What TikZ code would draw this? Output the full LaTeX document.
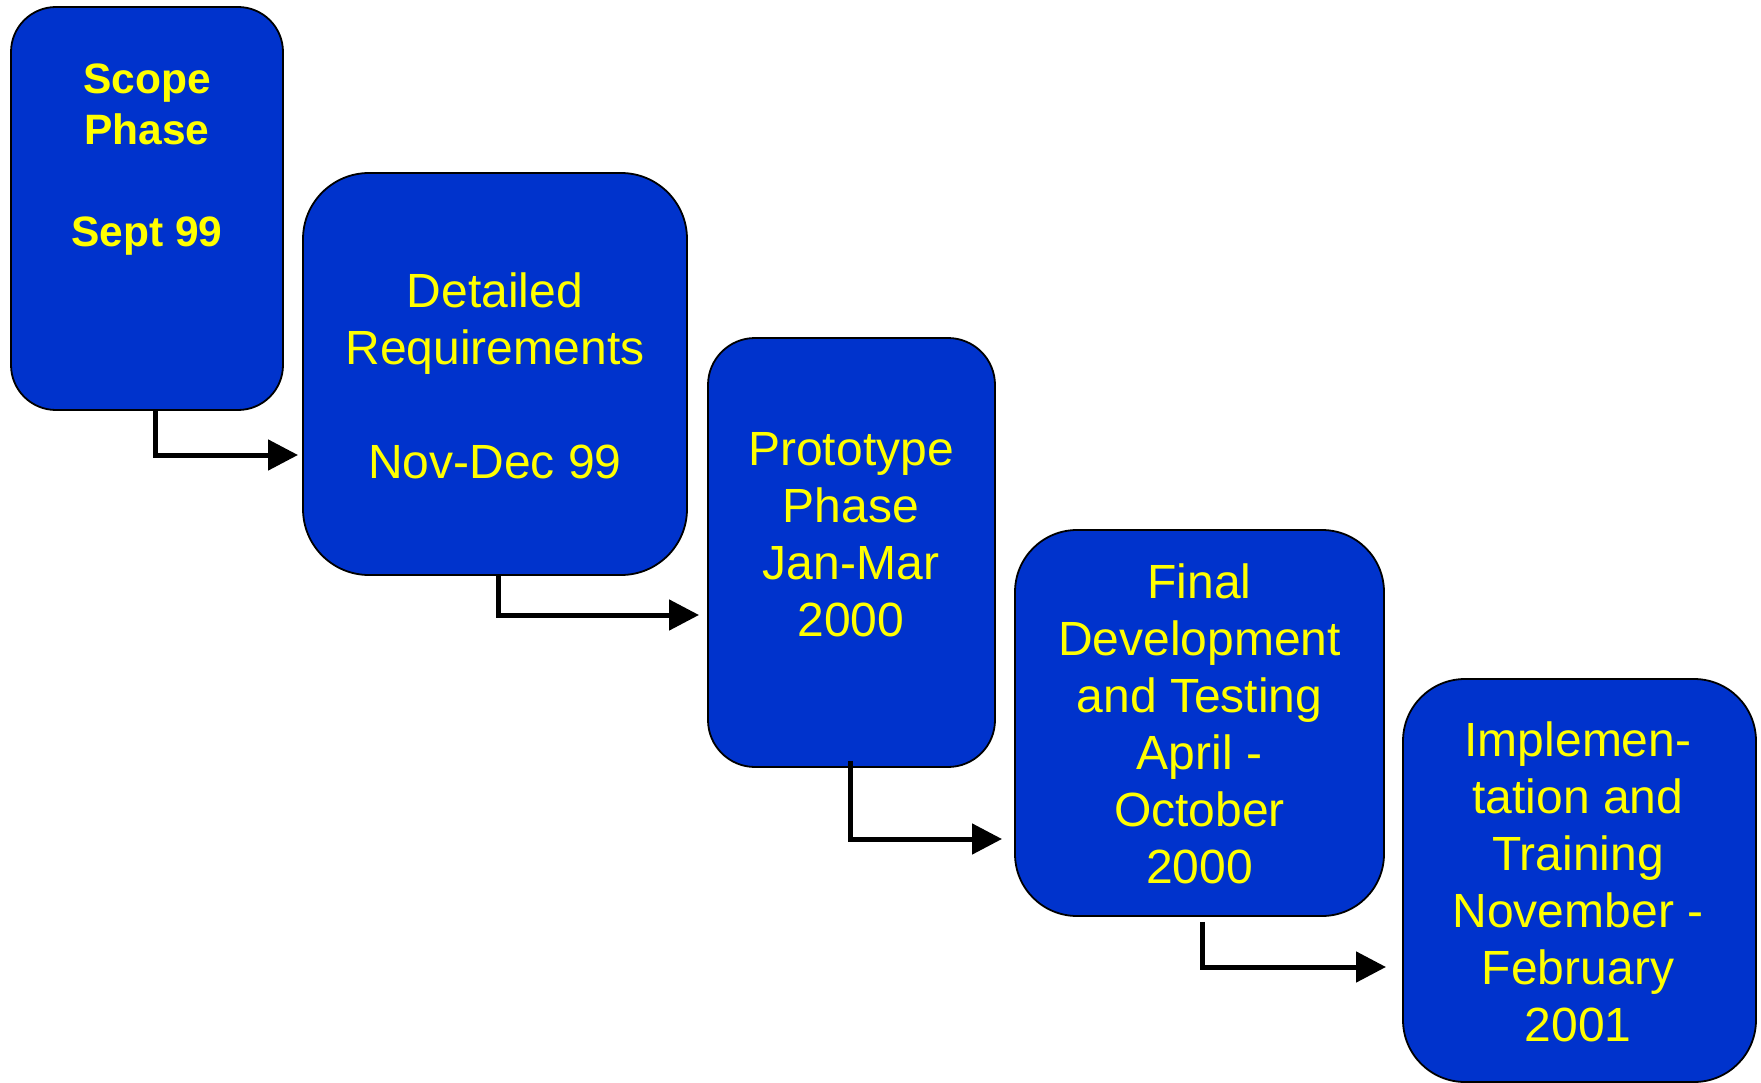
\documentclass[tikz,border=0pt]{standalone}
\usepackage{fontspec}
\setmainfont{Liberation Sans}
\usetikzlibrary{arrows.meta}
\definecolor{boxblue}{RGB}{0,51,204}
\definecolor{txtyellow}{RGB}{255,255,0}
\begin{document}
\begin{tikzpicture}[x=1pt,y=-1pt,
  phasebox/.style={draw=black,line width=1.8pt,fill=boxblue,inner sep=0pt,rectangle},
  phasetext/.style={text=txtyellow,align=center,inner sep=0pt,font=\fontsize{48}{57}\selectfont},
  conn/.style={line width=5pt,-{Triangle[length=30pt,width=30pt]}}
]
\useasboundingbox (0,0) rectangle (1761,1083);
% boxes
\node[phasebox,rounded corners=45pt,minimum width=272pt,minimum height=403pt] (b1) at (147,208.5) {};
\node[phasebox,rounded corners=66pt,minimum width=384pt,minimum height=402pt] (b2) at (495,374) {};
\node[phasebox,rounded corners=47pt,minimum width=287pt,minimum height=429pt] (b3) at (851.5,552.5) {};
\node[phasebox,rounded corners=62pt,minimum width=369pt,minimum height=386pt] (b4) at (1199.5,723) {};
\node[phasebox,rounded corners=62pt,minimum width=353pt,minimum height=403pt] (b5) at (1579.5,880.5) {};
% texts
\node[phasetext,font=\fontsize{42.5}{51}\selectfont\bfseries] (t1) at (147,160) {Scope\\Phase\\[51pt]Sept 99};
\node[phasetext] (t2) at (495,375.5) {Detailed\\Requirements\\[57pt]Nov-Dec 99};
\node[phasetext] (t3) at (851,534.5) {Prototype\\Phase\\Jan-Mar\\2000};
\node[phasetext] (t4) at (1199.5,723.5) {Final\\Development\\and Testing\\April -\\October\\2000};
\node[phasetext] (t5) at (1578,881.5) {Implemen-\\tation and\\Training\\November -\\February\\2001};
% arrow end points
\coordinate (e1) at (298,455);
\coordinate (e2) at (699,615);
\coordinate (e3) at (1002,839);
\coordinate (e4) at (1386,967);
% connectors
\draw[conn] ([xshift=8pt]b1.south) |- (e1);
\draw[conn] ([xshift=3pt]b2.south) |- (e2);
\draw[conn] ([xshift=-1.5pt,yshift=7pt]b3.south) |- (e3);
\draw[conn] ([xshift=2.5pt,yshift=-5pt]b4.south) |- (e4);
\end{tikzpicture}
\end{document}
